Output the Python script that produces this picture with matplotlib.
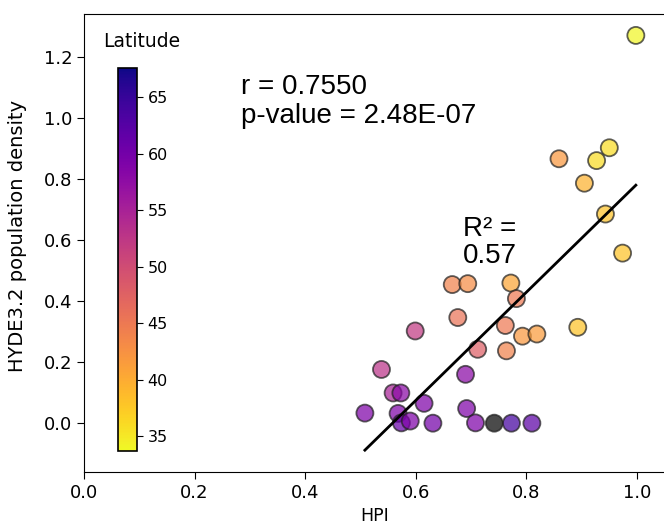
import numpy as np
import matplotlib
matplotlib.use("Agg")
import matplotlib.pyplot as plt

# HPI vs population density, coloured by latitude (NaN = no latitude)
hpi = [0.998, 0.859, 0.927, 0.950, 0.905, 0.943, 0.974,
       0.666, 0.694, 0.772, 0.782, 0.676, 0.599, 0.762, 0.793, 0.819, 0.893,
       0.712, 0.764, 0.538, 0.690, 0.559, 0.573, 0.508, 0.568, 0.615, 0.692,
       0.574, 0.590, 0.631, 0.708, 0.742, 0.773, 0.810]
density = [1.270, 0.866, 0.860, 0.902, 0.786, 0.685, 0.557,
           0.454, 0.457, 0.459, 0.408, 0.346, 0.302, 0.320, 0.285, 0.292, 0.314,
           0.242, 0.237, 0.176, 0.160, 0.099, 0.099, 0.033, 0.032, 0.065, 0.048,
           0.001, 0.007, 0.000, 0.001, 0.000, 0.000, 0.000]
latitude = [34, 42, 36, 36, 39.5, 38, 38,
            44, 43, 40.5, 45, 45.5, 52, 45, 42, 41.5, 38,
            48, 44, 53, 58, 55, 58, 59, 59, 59, 59,
            61, 59, 60, 59, np.nan, 64, 62]

# regression line
fit_slope = 1.771
fit_intercept = -0.988

r_text = "r = 0.7550\np-value = 2.48E-07"
r2_text = "R\u00b2 =\n0.57"

hpi = np.array(hpi)
density = np.array(density)
latitude = np.array(latitude)

fig = plt.figure(figsize=(6.64, 5.28), dpi=100)
ax = fig.add_axes([0.1265, 0.106, 0.8744, 0.8674])

cmap = plt.get_cmap("plasma_r").copy()
cmap.set_bad("#050505")
sc = ax.scatter(hpi, density, c=latitude, cmap=cmap, vmin=33.7, vmax=67.6,
                s=150, alpha=0.72, edgecolors="#222222", linewidths=1.3,
                plotnonfinite=True, zorder=3)

xs = np.array([hpi.min(), hpi.max()])
ax.plot(xs, fit_slope * xs + fit_intercept, color="black", lw=2, zorder=4)

ax.set_xlim(0, 1.05)
ax.set_ylim(-0.16, 1.34)
ax.set_xticks(np.arange(0, 1.01, 0.2))
ax.set_yticks(np.arange(0, 1.21, 0.2))
ax.tick_params(labelsize=13, length=5)
ax.spines["right"].set_visible(False)
ax.set_xlabel("HPI", fontsize=12.5)
ax.set_ylabel("HYDE3.2 population density", fontsize=14)
ax.yaxis.set_label_coords(-0.098, 0.515)

ax.text(0.284, 1.054, r_text, fontsize=20, family="Liberation Sans",
        va="center", linespacing=1.15)
ax.text(0.685, 0.592, r2_text, fontsize=20, family="Liberation Sans",
        va="center", linespacing=1.05)

cax = fig.add_axes([0.1777, 0.1458, 0.0286, 0.7254])
cb = fig.colorbar(sc, cax=cax)
cb.solids.set_alpha(1)
cb.set_ticks([35, 40, 45, 50, 55, 60, 65])
cb.ax.tick_params(labelsize=11.5, length=4)
cb.outline.set_linewidth(1.2)
fig.text(0.155, 0.922, "Latitude", fontsize=13.5, va="center")

fig.savefig("out.png", dpi=100)
